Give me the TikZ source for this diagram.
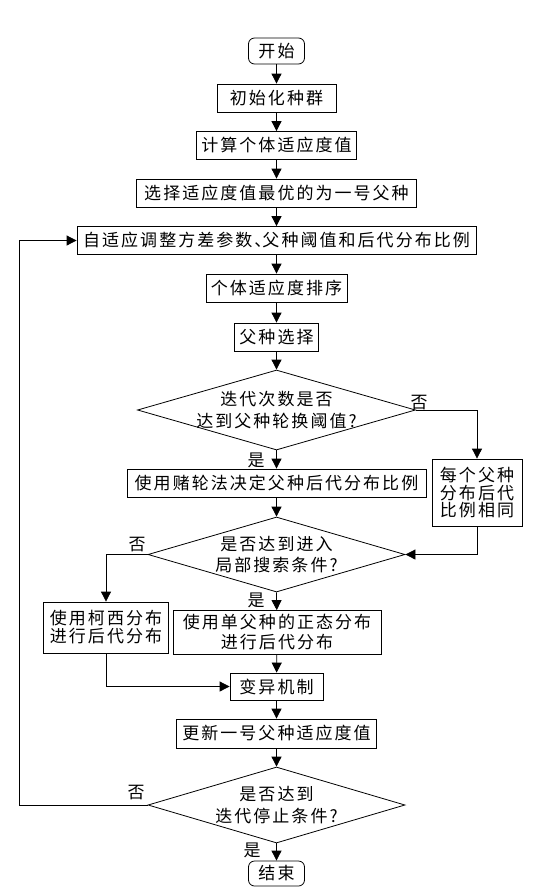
\documentclass[tikz,border=0pt]{standalone}
\usepackage{fontspec}
\newfontfamily\cjk[LetterSpace=12]{Noto Sans CJK SC}
\usetikzlibrary{positioning,arrows.meta,shapes.geometric,calc}

\begin{document}
\begin{tikzpicture}[x=1pt, y=-1pt,
  every node/.style={font=\cjk\fontsize{17}{20}\selectfont},
  proc/.style ={draw, line width=0.8pt, minimum height=28pt, inner sep=0pt, align=center},
  term/.style ={draw, line width=0.8pt, rounded corners=6pt, minimum width=56pt,
                minimum height=26pt, inner sep=0pt},
  dec/.style  ={draw, line width=0.8pt, diamond, inner sep=0pt},
  dtxt/.style ={align=center, font=\cjk\fontsize{17}{21.5}\selectfont},
  lbl/.style  ={inner sep=0pt},
  arr/.style  ={-{Triangle[length=10pt, width=10pt]}, line width=0.8pt},
  lin/.style  ={line width=0.8pt}]

\useasboundingbox (0,0) rectangle (538,895);

%% ── Main column ──────────────────────────────────────────────────
\node[term] (start)  at (276.5,  51) {开始};
\node[proc, minimum width=119pt] (init)   at (276.5,  98) {初始化种群};
\node[proc, minimum width=160pt] (fit)    at (276.5, 145.5) {计算个体适应度值};
\node[proc, minimum width=280pt] (best)   at (276.5, 193) {选择适应度值最优的为一号父种};
\node[proc, minimum width=399pt] (adapt)  at (276.5, 240.5) {自适应调整方差参数、\kern-9pt父种阈值和后代分布比例};
\node[proc, minimum width=141pt] (sort)   at (276.5, 288) {个体适应度排序};
\node[proc, minimum width=84pt]  (select) at (276.5, 337) {父种选择};

%% ── First decision ───────────────────────────────────────────────
\node[dec, minimum width=278pt, minimum height=80pt,
      label={[dtxt]center:迭代次数是否\\达到父种轮换阈值?}] (dswap) at (276.5, 410) {};
\node[proc, minimum width=299pt] (wheel) at (276.5, 483) {使用赌轮法决定父种后代分布比例};
\node[proc, minimum width=90pt, minimum height=67pt,
      font=\cjk\fontsize{17}{17.5}\selectfont] (same) at (477, 492.5) {每个父种\\分布后代\\比例相同};

%% ── Second decision ──────────────────────────────────────────────
\node[dec, minimum width=257pt, minimum height=75pt,
      label={[dtxt]center:是否达到进入\\局部搜索条件?}] (dlocal) at (276.5, 554.5) {};
\node[proc, minimum width=125pt, minimum height=51pt,
      font=\cjk\fontsize{17}{18}\selectfont] (cauchy) at (106, 627.5) {使用柯西分布\\进行后代分布};
\node[proc, minimum width=208pt, minimum height=44pt] (gauss) at (277, 632.5) {使用单父种的正态分布\\进行后代分布};

%% ── Mutation, update, stop ───────────────────────────────────────
\node[proc, minimum width=93pt, minimum height=27pt] (mutate) at (276.5, 686.5) {变异机制};
\node[proc, minimum width=200pt, minimum height=29pt] (update) at (276.5, 733.5) {更新一号父种适应度值};
\node[dec, minimum width=257pt, minimum height=76pt,
      label={[dtxt]center:是否达到\\迭代停止条件?}] (dstop) at (276.5, 805) {};
\node[term, minimum height=25pt] (stop) at (276.5, 873.5) {结束};

%% ── Branch labels ────────────────────────────────────────────────
\node[lbl] (no1)  at (419, 403) {否};
\node[lbl] (yes1) at (256, 460) {是};
\node[lbl] (no2)  at (137, 545) {否};
\node[lbl] (yes2) at (256, 600) {是};
\node[lbl] (no3)  at (136, 793) {否};
\node[lbl] (yes3) at (252, 850) {是};

%% ── Arrows down the main column ──────────────────────────────────
\draw[arr] (start)  -- (init);
\draw[arr] (init)   -- (fit);
\draw[arr] (fit)    -- (best);
\draw[arr] (best)   -- (adapt);
\draw[arr] (adapt)  -- (sort);
\draw[arr] (sort)   -- (select);
\draw[arr] (select) -- (dswap.north);
\draw[arr] (dswap.south) -- (wheel);
\draw[arr] (wheel)  -- (dlocal.north);
\draw[arr] (dlocal.south) -- (gauss);
\draw[arr] (gauss)  -- (mutate);
\draw[arr] (mutate) -- (update);
\draw[arr] (update) -- (dstop.north);
\draw[arr] (dstop.south) -- (stop);

%% ── Side branches ────────────────────────────────────────────────
\draw[arr] (dswap.east) -| (same.north);
\draw[arr] (same.south) |- (dlocal.east);
\draw[arr] (dlocal.west) -| (cauchy.north);
\draw[arr] (cauchy.south) |- (mutate.west);

%% ── Loop back when not finished ──────────────────────────────────
\coordinate (loop) at (19.5, 805);
\draw[arr] (dstop.west) -- (loop) |- (adapt.west);
\end{tikzpicture}
\end{document}
